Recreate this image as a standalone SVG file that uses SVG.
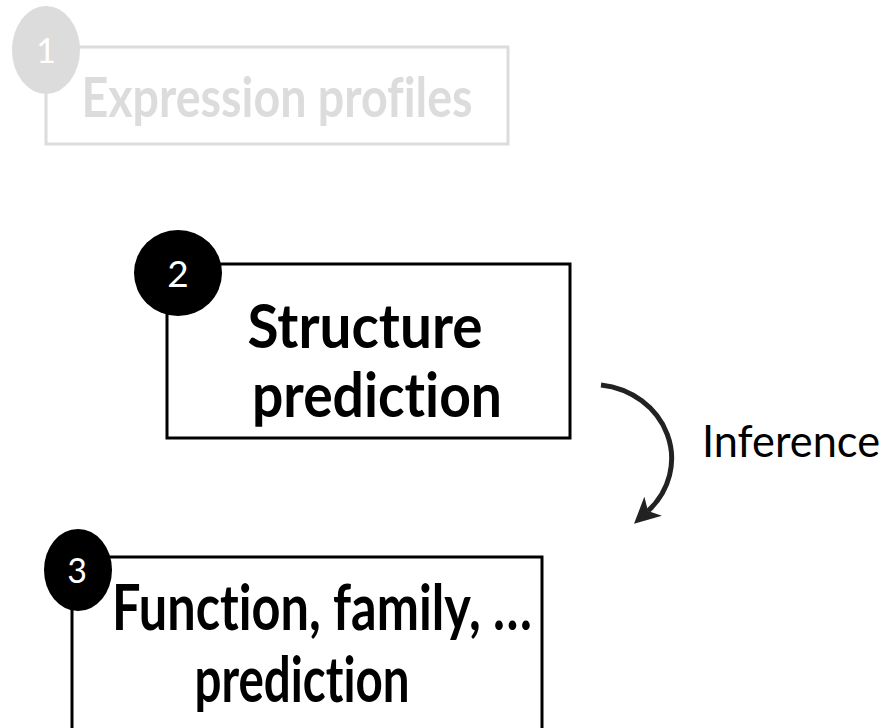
<svg xmlns="http://www.w3.org/2000/svg" width="889" height="728" viewBox="0 0 889 728">
  <style>
    text { font-variant-ligatures: none; font-feature-settings: "liga" 0, "clig" 0; }
    .box { fill: #ffffff; stroke-width: 3; }
    .title { font-family: Lato, "Open Sans", "Liberation Sans", sans-serif; font-weight: bold; text-anchor: middle; }
    .num { font-family: Lato, "Open Sans", "Liberation Sans", sans-serif; fill: #ffffff; text-anchor: middle; }
    .faded { stroke: #dcdcdc; }
    .dark { stroke: #000000; }
  </style>
  <defs>
    <marker id="head" markerUnits="userSpaceOnUse" markerWidth="26" markerHeight="26" refX="7" refY="13" orient="auto">
      <path d="M0,0 L26,13 L0,26 L7,13 z" fill="#222222"/>
    </marker>
  </defs>

  <!-- step 1: expression profiles (faded) -->
  <g id="node-expression">
    <rect class="box faded" x="46" y="47" width="462" height="97"/>
    <ellipse cx="46" cy="50" rx="34" ry="44" fill="#dcdcdc"/>
    <text class="num" x="46" y="63" font-size="34">1</text>
    <text class="title" x="277" y="117" font-size="56" fill="#dcdcdc" textLength="391" lengthAdjust="spacingAndGlyphs">Expression profiles</text>
  </g>

  <!-- step 2: structure prediction -->
  <g id="node-structure">
    <rect class="box dark" x="167" y="264" width="403" height="174"/>
    <ellipse cx="178" cy="273" rx="44" ry="43" fill="#000000"/>
    <text class="num" x="178" y="287" font-size="37">2</text>
    <text class="title" x="365" y="348" font-size="62" fill="#000000" textLength="235" lengthAdjust="spacingAndGlyphs">Structure</text>
    <text class="title" x="377" y="417" font-size="62" fill="#000000" textLength="250" lengthAdjust="spacingAndGlyphs">prediction</text>
  </g>

  <!-- step 3: function / family prediction -->
  <g id="node-function">
    <rect class="box dark" x="72" y="557" width="470" height="200"/>
    <ellipse cx="78" cy="570" rx="34" ry="41" fill="#000000"/>
    <text class="num" x="77" y="583" font-size="34">3</text>
    <text class="title" x="322" y="630" font-size="64" fill="#000000" textLength="420" lengthAdjust="spacingAndGlyphs">Function, family, …</text>
    <text class="title" x="302" y="702" font-size="64" fill="#000000" textLength="215" lengthAdjust="spacingAndGlyphs">prediction</text>
  </g>

  <!-- connectors -->
  <g id="connectors">
    <path d="M 601 385 A 80 74 0 0 1 648 511" fill="none" stroke="#222222" stroke-width="5" marker-end="url(#head)"/>
    <text x="702" y="457" font-family="Lato, 'Open Sans', 'Liberation Sans', sans-serif" font-size="44" fill="#000000" textLength="178" lengthAdjust="spacingAndGlyphs">Inference</text>
  </g>
</svg>
